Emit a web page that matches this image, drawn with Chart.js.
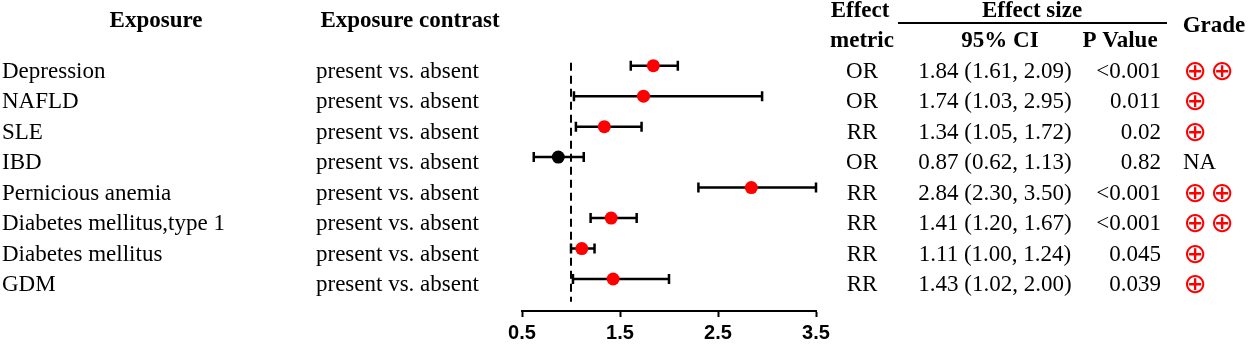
<!DOCTYPE html>
<html>
<head>
<meta charset="utf-8">
<script src="https://cdn.jsdelivr.net/npm/chart.js@4"></script>
<style>
  body { margin: 0; background: #fff; }
  canvas { display: block; }
</style>
</head>
<body>
<canvas id="forest" width="1248" height="344"></canvas>
<script>
// data
const exposures = ['Depression', 'NAFLD', 'SLE', 'IBD', 'Pernicious anemia', 'Diabetes mellitus,type 1', 'Diabetes mellitus', 'GDM'];
const contrasts = ['present vs. absent', 'present vs. absent', 'present vs. absent', 'present vs. absent', 'present vs. absent', 'present vs. absent', 'present vs. absent', 'present vs. absent'];
const metrics = ['OR', 'OR', 'RR', 'OR', 'RR', 'RR', 'RR', 'RR'];
const estimates = [1.84, 1.74, 1.34, 0.87, 2.84, 1.41, 1.11, 1.43];
const lower = [1.61, 1.03, 1.05, 0.62, 2.30, 1.20, 1.00, 1.02];
const upper = [2.09, 2.95, 1.72, 1.13, 3.50, 1.67, 1.24, 2.00];
const pValues = ['<0.001', '0.011', '0.02', '0.82', '<0.001', '<0.001', '0.045', '0.039'];
const grades = [2, 1, 1, 0, 2, 2, 1, 1]; // count of ⊕, 0 means NA
const xTicks = [0.5, 1.5, 2.5, 3.5];
const nullValue = 1;

const RED = '#ff0000';
const SERIF = '"Liberation Serif", "Times New Roman", serif';

const errorBars = {
  id: 'errorBars',
  beforeDatasetsDraw(chart) {
    const { ctx, scales: { x, y } } = chart;
    ctx.save();
    ctx.strokeStyle = '#000';
    ctx.lineWidth = 2.5;
    estimates.forEach((_, i) => {
      const py = y.getPixelForValue(i);
      const x1 = x.getPixelForValue(lower[i]);
      const x2 = x.getPixelForValue(upper[i]);
      ctx.beginPath();
      ctx.moveTo(x1, py); ctx.lineTo(x2, py);
      ctx.moveTo(x1, py - 5); ctx.lineTo(x1, py + 5);
      ctx.moveTo(x2, py - 5); ctx.lineTo(x2, py + 5);
      ctx.stroke();
    });
    ctx.restore();
  }
};

const tableText = {
  id: 'tableText',
  afterDraw(chart) {
    const { ctx, scales: { y } } = chart;
    ctx.save();
    ctx.fillStyle = '#000';
    ctx.textBaseline = 'alphabetic';

    // headers
    ctx.font = 'bold 23px ' + SERIF;
    ctx.textAlign = 'center';
    ctx.fillText('Exposure', 156, 27);
    ctx.fillText('Exposure contrast', 410, 27);
    ctx.fillText('Effect', 860, 17);
    ctx.fillText('metric', 862, 47);
    ctx.fillText('Effect size', 1032, 17);
    ctx.fillText('95% CI', 1000, 47);
    ctx.fillText('P Value', 1120, 47);
    ctx.fillText('Grade', 1214, 32);
    ctx.lineWidth = 2;
    ctx.beginPath();
    ctx.moveTo(898, 23); ctx.lineTo(1167, 23);
    ctx.stroke();

    // rows
    exposures.forEach((name, i) => {
      const by = y.getPixelForValue(i) + 12;
      ctx.font = '23px ' + SERIF;
      ctx.fillStyle = '#000';
      ctx.textAlign = 'left';
      ctx.fillText(name, 2, by);
      ctx.fillText(contrasts[i], 316, by);
      ctx.textAlign = 'center';
      ctx.fillText(metrics[i], 862, by);
      const ci = `${estimates[i].toFixed(2)} (${lower[i].toFixed(2)}, ${upper[i].toFixed(2)})`;
      ctx.fillText(ci, 995, by);
      ctx.textAlign = 'right';
      ctx.fillText(pValues[i], 1161, by);
      ctx.textAlign = 'center';
      if (grades[i] === 0) {
        ctx.textAlign = 'left';
        ctx.fillText('NA', 1183, by);
      } else {
        ctx.fillStyle = RED;
        ctx.font = '28px "DejaVu Sans"';
        for (let k = 0; k < grades[i]; k++) {
          ctx.fillText('⊕', 1195 + k * 27, by + 2);
        }
      }
    });
    ctx.restore();
  }
};

new Chart(document.getElementById('forest'), {
  type: 'scatter',
  data: {
    datasets: [
      {
        type: 'line',
        data: [{ x: nullValue, y: -0.1 }, { x: nullValue, y: 7.75 }],
        borderColor: '#000',
        borderWidth: 2,
        borderDash: [8, 5],
        pointRadius: 0
      },
      {
        data: estimates.map((v, i) => ({ x: v, y: i })),
        backgroundColor: grades.map(g => g === 0 ? '#000' : RED),
        borderWidth: 0,
        pointRadius: 6.5
      }
    ]
  },
  options: {
    responsive: false,
    animation: false,
    layout: { padding: { left: 522, right: 432, top: 20, bottom: 0 } },
    plugins: { legend: { display: false }, tooltip: { enabled: false } },
    scales: {
      x: {
        type: 'linear',
        min: 0.5,
        max: 3.5,
        afterBuildTicks: scale => { scale.ticks = xTicks.map(v => ({ value: v })); },
        afterFit: scale => { scale.height = 33; },
        border: { display: true, color: '#000', width: 2 },
        grid: { drawOnChartArea: false, drawTicks: true, tickLength: 6, tickWidth: 2, tickColor: '#000' },
        ticks: {
          color: '#000',
          padding: 4,
          maxRotation: 0,
          font: { family: '"Liberation Sans", Arial, sans-serif', size: 20, weight: 'bold' },
          callback: v => Number(v).toFixed(1)
        }
      },
      y: {
        type: 'linear',
        reverse: true,
        min: -1.5,
        max: 8.05,
        display: false
      }
    }
  },
  plugins: [errorBars, tableText]
});
</script>
</body>
</html>
